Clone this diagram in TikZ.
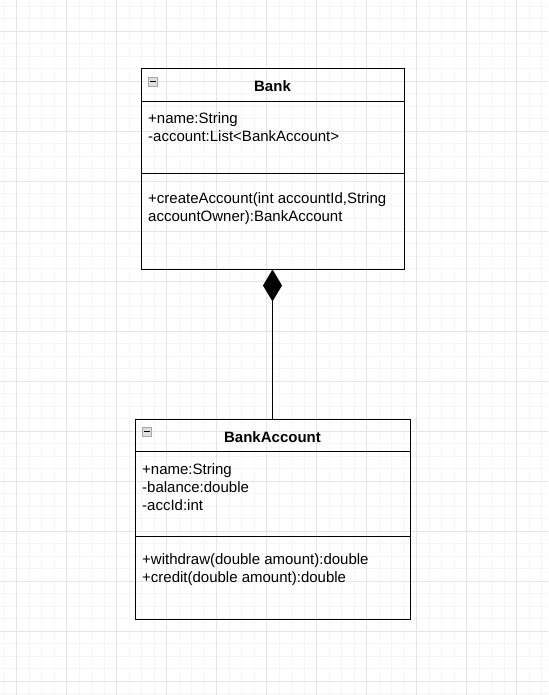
\documentclass[tikz,border=0pt]{standalone}
\usepackage{fontspec}
\setmainfont{Liberation Sans}
\usetikzlibrary{arrows.meta}

\tikzset{
  classbox/.style={draw=black, line width=1pt, inner sep=0pt},
  classname/.style={font=\fontsize{15}{18}\selectfont\bfseries, anchor=base, inner sep=0pt},
  member/.style={anchor=base west, inner sep=0pt},
  composition/.style={{Diamond[length=32pt,width=19pt]}-, line width=1pt},
  minorgrid/.style={gray!7, line width=1pt},
  majorgrid/.style={gray!20, line width=1pt},
  foldicon/.style={draw=gray!70, fill=gray!25, line width=0.6pt},
}

\begin{document}
\begin{tikzpicture}[x=1pt, y=-1pt, font=\fontsize{15}{18}\selectfont]
  % canvas
  \useasboundingbox (0,0) rectangle (548,695);
  \fill[white] (0,0) rectangle (548,695);

  % grid
  \foreach \x in {4.2,16.7,...,548} {
    \draw[minorgrid] (\x,0) -- (\x,695);
  }
  \foreach \y in {6.3,18.8,...,695} {
    \draw[minorgrid] (0,\y) -- (548,\y);
  }
  \foreach \x in {16.7,66.7,...,548} {
    \draw[majorgrid] (\x,0) -- (\x,695);
  }
  \foreach \y in {31.3,81.3,...,695} {
    \draw[majorgrid] (0,\y) -- (548,\y);
  }

  % Bank
  \node[classbox, minimum width=263pt, minimum height=200pt] (bank) at (272.5,169) {};
  \draw[line width=1pt] ([yshift=-33pt]bank.north west) -- ([yshift=-33pt]bank.north east);
  \draw[line width=1pt] ([yshift=-105pt]bank.north west) -- ([yshift=-105pt]bank.north east);
  \draw[foldicon] (148,77) rectangle (157,86);
  \draw[line width=1.4pt] (149.5,81.5) -- (155.5,81.5);
  \node[classname] (bankname) at (272.5,92) {Bank};
  \node[member] (bankattra) at (148,124) {+name:String};
  \node[member] (bankattrb) at (148,142) {-account:List<BankAccount>};
  \node[member] (bankopa) at (148,203) {+createAccount(int accountId,String};
  \node[member] (bankopb) at (148,221) {accountOwner):BankAccount};

  % BankAccount
  \node[classbox, minimum width=275pt, minimum height=200pt] (account) at (272.5,519) {};
  \draw[line width=1pt] ([yshift=-33pt]account.north west) -- ([yshift=-33pt]account.north east);
  \draw[line width=1pt] ([yshift=-118pt]account.north west) -- ([yshift=-118pt]account.north east);
  \draw[foldicon] (142,427) rectangle (151,436);
  \draw[line width=1.4pt] (143.5,431.5) -- (149.5,431.5);
  \node[classname] (accountname) at (272.5,442) {BankAccount};
  \node[member] (accattra) at (142,474) {+name:String};
  \node[member] (accattrb) at (142,492) {-balance:double};
  \node[member] (accattrc) at (142,510) {-accId:int};
  \node[member] (accopa) at (142,564) {+withdraw(double amount):double};
  \node[member] (accopb) at (142,582) {+credit(double amount):double};

  % composition
  \draw[composition] (bank.south) -- (account.north);
\end{tikzpicture}
\end{document}
